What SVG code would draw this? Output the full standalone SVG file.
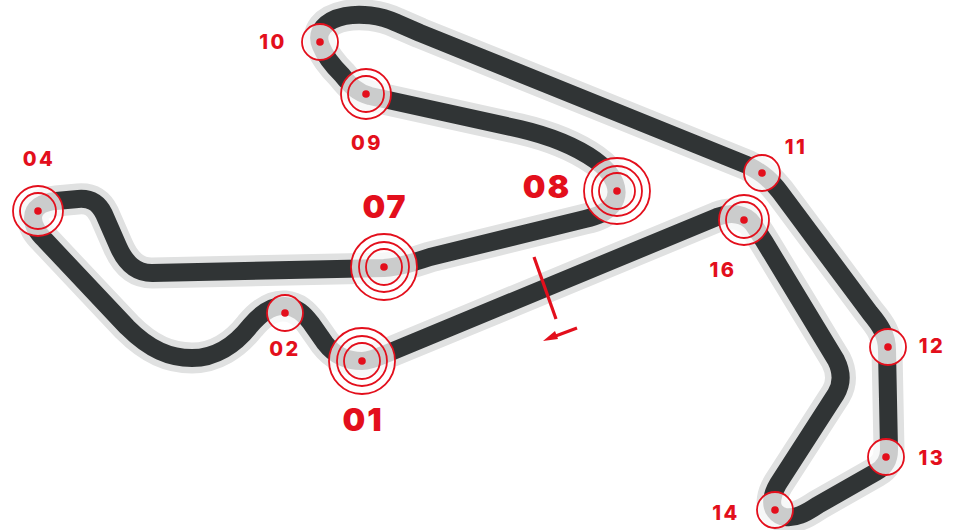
<svg xmlns="http://www.w3.org/2000/svg" width="957" height="530" viewBox="0 0 957 530">
<style>
.halo{fill:none;stroke:#e0e1e1;stroke-width:31;stroke-linejoin:round;stroke-linecap:round}
.track{fill:none;stroke:#303435;stroke-width:18;stroke-linejoin:round;stroke-linecap:round}
.ring{fill:#fff;fill-opacity:.75;stroke:#e30f1c;stroke-width:1.8}
.inner{fill:none;stroke:#e30f1c;stroke-width:1.8}
.dot{fill:#e30f1c}
.lb{fill:#e30f1c;font-family:Inter,"Liberation Sans",sans-serif;font-weight:800;font-size:20px;letter-spacing:2.5px;text-anchor:middle}
.big{fill:#e30f1c;font-family:Inter,"Liberation Sans",sans-serif;font-weight:900;font-size:32px;letter-spacing:2px;text-anchor:middle}
</style>
<defs>
<path id="t" d="M362 361C373 361 382 355 393 351L717 217C730 212 745 213 753 224C758 231 760 235 764 241L836 360C842 372 842 384 836 394L778 484C772 494 770 505 775 511C780 518 790 519 800 515C806 513 812 509 818 505L876 472C885 467 889 460 889 450L887 350C887 335 880 325 870 313L780 192C772 182 765 174 747 165L420 33L397 23C380 15 360 13 345 16C325 20 315 32 321 46C325 56 335 68 342 75C350 85 356 92 370 96L520 129C550 136 575 146 595 160C615 174 622 192 612 205C605 213 598 216 585 219L430 257C415 262 400 267 384 268L152 273C135 273 125 262 118 246L104 214C98 202 90 198 78 199L56 201C42 202 33 208 33 218C33 226 37 232 45 240L127 327C150 350 170 358 192 358C215 358 235 345 250 326C260 314 272 305 285 306C297 307 304 314 311 323L325 343C335 356 347 361 362 361Z"/>
</defs>
<g id="connectors">
<use href="#t" class="halo"/>
<use href="#t" class="track"/>
<path d="M534 257L556 319" fill="none" stroke="#e30f1c" stroke-width="3.2"/>
<path d="M577 328L553 337" fill="none" stroke="#e30f1c" stroke-width="3.2"/>
<path d="M543 341L555 331L558 339Z" fill="#e30f1c"/>
</g>
<g id="n01"><circle class="ring" cx="362" cy="361" r="33"/><circle class="inner" cx="362" cy="361" r="25"/><circle class="inner" cx="362" cy="361" r="18"/><circle class="dot" cx="362" cy="361" r="3.8"/><text class="big" x="363" y="431">01</text></g>
<g id="n02"><circle class="ring" cx="285" cy="313" r="18"/><circle class="dot" cx="285" cy="313" r="3.8"/><text class="lb" x="285" y="356">02</text></g>
<g id="n04"><circle class="ring" cx="38" cy="211" r="25"/><circle class="inner" cx="38" cy="211" r="18"/><circle class="dot" cx="38" cy="211" r="3.8"/><text class="lb" x="39" y="166">04</text></g>
<g id="n07"><circle class="ring" cx="384" cy="267" r="33"/><circle class="inner" cx="384" cy="267" r="25"/><circle class="inner" cx="384" cy="267" r="18"/><circle class="dot" cx="384" cy="267" r="3.8"/><text class="big" x="385" y="218">07</text></g>
<g id="n08"><circle class="ring" cx="617" cy="191" r="33"/><circle class="inner" cx="617" cy="191" r="25"/><circle class="inner" cx="617" cy="191" r="18"/><circle class="dot" cx="617" cy="191" r="3.8"/><text class="big" x="547" y="198">08</text></g>
<g id="n09"><circle class="ring" cx="366" cy="94" r="25"/><circle class="inner" cx="366" cy="94" r="18"/><circle class="dot" cx="366" cy="94" r="3.8"/><text class="lb" x="367" y="150">09</text></g>
<g id="n10"><circle class="ring" cx="320" cy="42" r="18"/><circle class="dot" cx="320" cy="42" r="3.8"/><text class="lb" x="273" y="49">10</text></g>
<g id="n11"><circle class="ring" cx="762" cy="173" r="18"/><circle class="dot" cx="762" cy="173" r="3.8"/><text class="lb" x="796" y="154">11</text></g>
<g id="n12"><circle class="ring" cx="888" cy="347" r="18"/><circle class="dot" cx="888" cy="347" r="3.8"/><text class="lb" x="932" y="353">12</text></g>
<g id="n13"><circle class="ring" cx="886" cy="457" r="18"/><circle class="dot" cx="886" cy="457" r="3.8"/><text class="lb" x="932" y="465">13</text></g>
<g id="n14"><circle class="ring" cx="775" cy="510" r="18"/><circle class="dot" cx="775" cy="510" r="3.8"/><text class="lb" x="726" y="520">14</text></g>
<g id="n16"><circle class="ring" cx="744" cy="220" r="25"/><circle class="inner" cx="744" cy="220" r="18"/><circle class="dot" cx="744" cy="220" r="3.8"/><text class="lb" x="723" y="277">16</text></g>
</svg>
